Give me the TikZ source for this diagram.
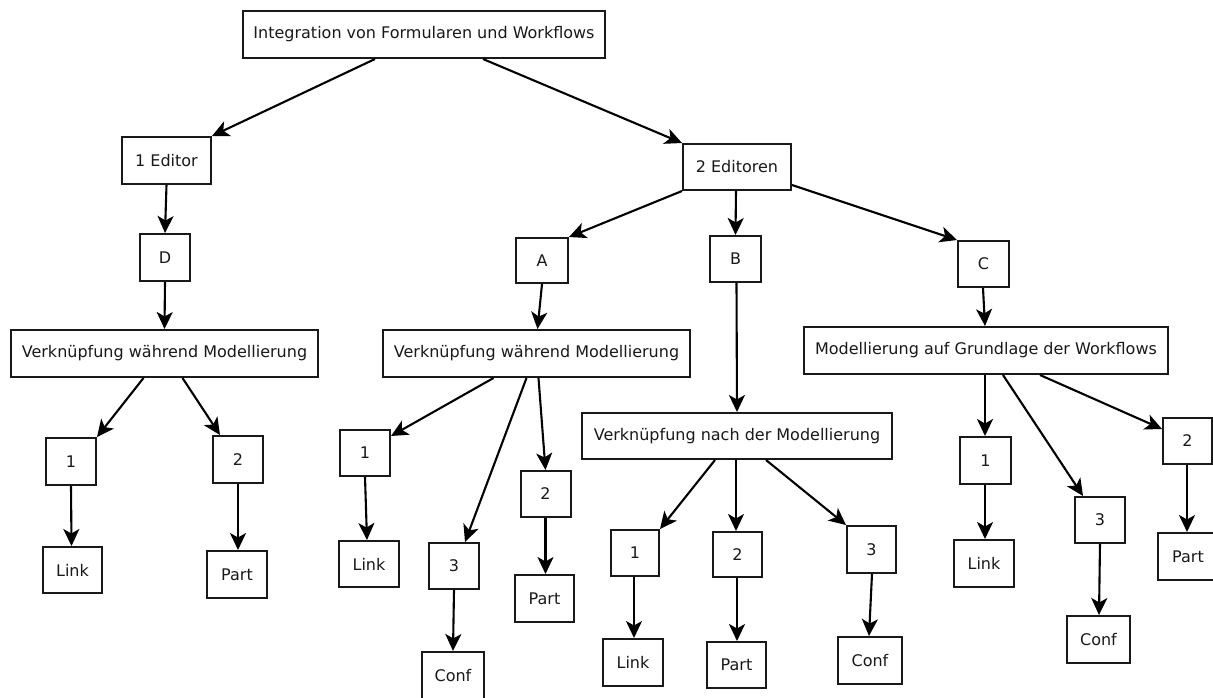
\documentclass[tikz,border=0pt]{standalone}
\usepackage{fontspec}
\setmainfont{DejaVu Sans}
\usetikzlibrary{arrows.meta,calc}
\tikzset{
  box/.style={draw=black!90, line width=2pt, fill=white, inner sep=0pt,
    minimum height=47pt, font=\fontsize{16}{19}\selectfont, text=black!90},
  sq/.style={box, minimum width=50pt},
  conn/.style={line width=2.1pt, draw=black,
    -{Stealth[length=17pt,width=16pt,inset=4.5pt]}},
}
\begin{document}
\begin{tikzpicture}[x=1pt,y=-1pt]
\useasboundingbox (0,0) rectangle (1213,697);

% root and first level
\node[box, minimum width=362pt] (top) at (424,34.5) {Integration von Formularen und Workflows};
\node[box, minimum width=89pt] (ed1) at (166.5,160.5) {1 Editor};
\node[box, minimum width=108pt, minimum height=46pt] (ed2) at (737,167) {2 Editoren};

% branch: one editor
\node[sq] (D) at (165,257.5) {D};
\node[box, minimum width=307pt] (vL) at (164.5,353.5) {Verknüpfung während Modellierung};
\node[sq] (L1) at (71,461.5) {1};
\node[sq] (L2) at (238,459.5) {2};
\node[box, minimum width=59pt, minimum height=46pt] (LLink) at (72.5,570) {Link};
\node[box, minimum width=60pt] (LPart) at (237,574.5) {Part};

% branch: two editors
\node[sq, minimum width=52pt, minimum height=45pt] (A) at (542,260.5) {A};
\node[sq, minimum width=51pt, minimum height=46pt] (B) at (735.5,259) {B};
\node[sq, minimum width=51pt, minimum height=46pt] (C) at (983.5,264) {C};

% A subtree
\node[box, minimum width=307pt] (vM) at (536.5,353.5) {Verknüpfung während Modellierung};
\node[sq, minimum height=46pt] (M1) at (365,453) {1};
\node[sq, minimum height=46pt] (M2) at (545.5,494) {2};
\node[sq, minimum height=46pt] (M3) at (454,566) {3};
\node[box, minimum width=60pt, minimum height=46pt] (MLink) at (369,564) {Link};
\node[box, minimum width=59pt] (MPart) at (544.5,598.5) {Part};
\node[box, minimum width=62pt] (MConf) at (453,675.5) {Conf};

% B subtree
\node[box, minimum width=310pt, minimum height=46pt] (vN) at (737,436) {Verknüpfung nach der Modellierung};
\node[sq, minimum width=48pt, minimum height=46pt] (N1) at (635,553) {1};
\node[sq, minimum width=49pt, minimum height=45pt] (N2) at (737.5,554.5) {2};
\node[sq, minimum width=49pt] (N3) at (871.5,549.5) {3};
\node[box, minimum width=60pt] (NLink) at (633,662.5) {Link};
\node[box, minimum width=59pt, minimum height=46pt] (NPart) at (736.5,665) {Part};
\node[box, minimum width=64pt] (NConf) at (870,660.5) {Conf};

% C subtree
\node[box, minimum width=364pt] (vR) at (986,350.5) {Modellierung auf Grundlage der Workflows};
\node[sq, minimum width=51pt] (R1) at (985.5,460.5) {1};
\node[sq, minimum height=46pt] (R3) at (1100,520) {3};
\node[sq, minimum width=49pt, minimum height=46pt] (R2) at (1187.5,441) {2};
\node[box, minimum width=60pt] (RLink) at (984,563.5) {Link};
\node[box, minimum width=63pt] (RConf) at (1098.5,639.5) {Conf};
\node[box, minimum width=60pt] (RPart) at (1188,556.5) {Part};

% connectors
\draw[conn] ($(top.south)+(-49,0)$) -- (ed1.north east);
\draw[conn] ($(top.south)+(59,0)$) -- (ed2.north west);
\draw[conn] (ed1.south) -- (D.north);
\draw[conn] (D.south) -- (vL.north);
\draw[conn] ($(vL.south)+(-21,0)$) -- (L1.north east);
\draw[conn] ($(vL.south)+(18,0)$) -- ($(L2.north)+(-18,0)$);
\draw[conn] (L1.south) -- ($(LLink.north)+(-1,0)$);
\draw[conn] (L2.south) -- ($(LPart.north)+(1,0)$);

\draw[conn] (ed2.south west) -- (A.north east);
\draw[conn] ($(ed2.south)+(-1,0)$) -- (B.north);
\draw[conn] ($(ed2.east)+(0,18)$) -- (C.north west);

\draw[conn] (A.south) -- ($(vM.north)+(1,0)$);
\draw[conn] ($(vM.south)+(-43,0)$) -- ($(M1.east)+(0,-17)$);
\draw[conn] ($(vM.south)+(-10,0)$) -- ($(M3.north)+(11,0)$);
\draw[conn] ($(vM.south)+(2,0)$) -- (M2.north);
\draw[conn] (M1.south) -- ($(MLink.north)+(-2,0)$);
\draw[conn] (M3.south) -- (MConf.north);
\draw[conn] (M2.south) -- ($(MPart.north)+(1,0)$);

\draw[conn] ($(B.south)+(1,0)$) -- (vN.north);
\draw[conn] ($(vN.south)+(-22,0)$) -- (N1.north east);
\draw[conn] ($(vN.south)+(-1,0)$) -- ($(N2.north)+(-1.5,0)$);
\draw[conn] ($(vN.south)+(29,0)$) -- (N3.north west);
\draw[conn] ($(N1.south)+(-1,0)$) -- ($(NLink.north)+(1,0)$);
\draw[conn] ($(N2.south)+(-0.5,0)$) -- ($(NPart.north)+(0.5,0)$);
\draw[conn] ($(N3.south)+(0.5,0)$) -- ($(NConf.north)+(-1,0)$);

\draw[conn] ($(C.south)+(-0.5,0)$) -- ($(vR.north)+(-1,0)$);
\draw[conn] ($(vR.south)+(-1,0)$) -- ($(R1.north)+(-0.5,0)$);
\draw[conn] ($(vR.south)+(17,0)$) -- ($(R3.north)+(-17,0)$);
\draw[conn] ($(vR.south)+(54,0)$) -- ($(R2.west)+(0,-12)$);
\draw[conn] ($(R1.south)+(-0.5,0)$) -- ($(RLink.north)+(1,0)$);
\draw[conn] (R3.south) -- ($(RConf.north)+(0.5,0)$);
\draw[conn] ($(R2.south)+(-0.5,0)$) -- ($(RPart.north)+(-1,0)$);
\end{tikzpicture}
\end{document}
